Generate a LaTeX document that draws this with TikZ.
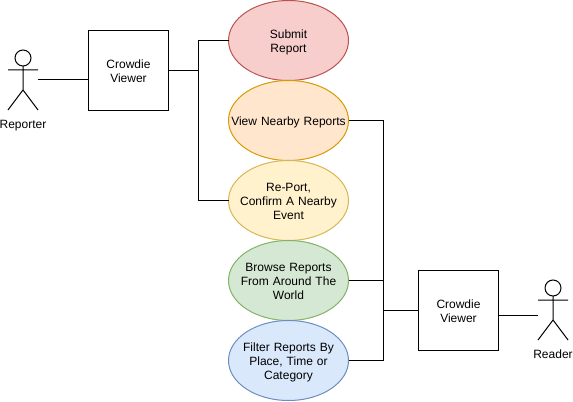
\documentclass[tikz,border=0pt]{standalone}
\usepackage{fontspec}
\setmainfont{Liberation Sans}
\usepackage{xcolor}
\usetikzlibrary{positioning,shapes.geometric}
\definecolor{redfill}{HTML}{F8CECC}
\definecolor{reddraw}{HTML}{B85450}
\definecolor{orangefill}{HTML}{FFE6CC}
\definecolor{orangedraw}{HTML}{D79B00}
\definecolor{yellowfill}{HTML}{FFF2CC}
\definecolor{yellowdraw}{HTML}{D6B656}
\definecolor{greenfill}{HTML}{D5E8D4}
\definecolor{greendraw}{HTML}{82B366}
\definecolor{bluefill}{HTML}{DAE8FC}
\definecolor{bluedraw}{HTML}{6C8EBF}
\tikzset{
  ustrut/.style={execute at begin node={\rule{0pt}{9.5pt}}, execute at end node={\rule[-2.5pt]{0pt}{2.5pt}}},
  ubox/.style={draw=black, line width=.75pt, align=center, font=\fontsize{9}{10.5}\selectfont, text width=56pt, inner sep=0pt, outer sep=0pt, minimum size=60pt, ustrut},
  ucase/.style={ellipse, line width=.75pt, align=center, font=\fontsize{9}{10.5}\selectfont, text width=88pt, inner xsep=-30pt, inner ysep=-12pt, outer sep=0pt, minimum width=90pt, minimum height=60pt, ustrut},
  uactor/.style={inner sep=0pt, outer sep=0pt, minimum width=22.5pt, minimum height=45pt},
  uhead/.style={draw=black, circle, line width=.75pt, inner sep=0pt, outer sep=0pt, minimum size=12pt},
  ulabel/.style={align=center, font=\fontsize{9}{10.5}\selectfont, inner sep=0pt},
  ulink/.style={line width=.75pt, line join=miter},
  ustick/.style={line width=.75pt, line join=round}
}

\begin{document}
\begin{tikzpicture}[x=.75pt,y=-.75pt]
\useasboundingbox (0,0) rectangle (573,402);
% use cases
\node[ucase, fill=redfill, draw=reddraw] (u1) at (288.5,40.5) {Submit\\Report};
\node[ucase, fill=orangefill, draw=orangedraw, below=0pt of u1] (u2) {View Nearby Reports};
\node[ucase, fill=yellowfill, draw=yellowdraw, below=0pt of u2] (u3) {Re-Port,\\Confirm A Nearby\\Event};
\node[ucase, fill=greenfill, draw=greendraw, below=0pt of u3] (u4) {Browse Reports\\From Around The\\World};
\node[ucase, fill=bluefill, draw=bluedraw, below=0pt of u4] (u5) {Filter Reports By\\Place, Time or\\Category};
% viewers
\node[ubox] (v1) at (128.5,70.5) {Crowdie\\Viewer};
\node[ubox] (v2) at (458.5,310.5) {Crowdie\\Viewer};
% actors
\node[uactor] (rep) at (23,80) {};
\node[uhead] (rephead) at (23,58) {};
\node[ulabel, below=7.5pt of rep] (replabel) {Reporter};
\draw[ustick] (rephead.south) -- (23,90) (8,70) -- (38,70) (8,110) -- (23,90) -- (38,110);
\node[uactor] (rea) at (553,310) {};
\node[uhead] (reahead) at (553,288) {};
\node[ulabel, below=7.5pt of rea] (realabel) {Reader};
\draw[ustick] (reahead.south) -- (553,320) (538,300) -- (568,300) (538,340) -- (553,320) -- (568,340);
% connectors
\coordinate (j1) at (198.5,70.5);
\coordinate (j2) at (383.5,310.5);
\coordinate (v2out) at ([yshift=-3.75pt]v2.east);
\draw[ulink] (rep.east) -- (rep.east -| v1.west);
\draw[ulink] (v1.east) -- (j1);
\draw[ulink] (u1.west) -- (u1.west -| j1) -- (u3.west -| j1) -- (u3.west);
\draw[ulink] (u2.east) -- (u2.east -| j2) -- (u5.east -| j2) -- (u5.east);
\draw[ulink] (u4.east) -- (u4.east -| j2);
\draw[ulink] (j2) -- (v2.west);
\draw[ulink] (v2out) -- (v2out -| rea.west);
\end{tikzpicture}
\end{document}
